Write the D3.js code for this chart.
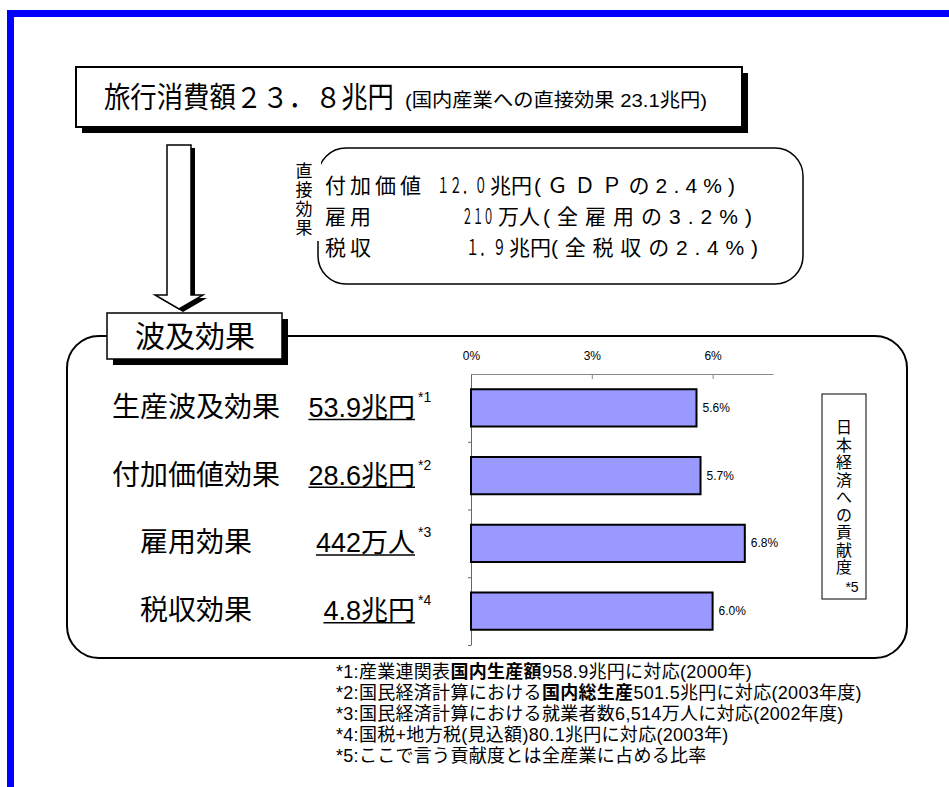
<!DOCTYPE html>
<html><head><meta charset="utf-8">
<script src="https://cdn.jsdelivr.net/npm/d3@7"></script>
<style>body{margin:0;background:#fff}svg{display:block}</style>
</head><body>
<script>
// ---------- data ----------
const categories = ["生産波及効果","付加価値効果","雇用効果","税収効果"];
const amounts = ["53.9兆円","28.6兆円","442万人","4.8兆円"];
const noteMarks = ["*1","*2","*3","*4"];
const shares = [5.6,5.7,6.8,6.0];
const shareTicks = [0,3,6];
const titleMain = "旅行消費額２３．８兆円";
const titleSub = "(国内産業への直接効果 23.1兆円)";
const directHeader = "直接効果";
const directLabels = ["付加価値","雇用","税収"];
const directNumbers = ["１２．０","２１０","１．９"];
const directUnits = ["兆円","万人","兆円"];
const directShares = ["(ＧＤＰの2.4%)","(全雇用の3.2%)","(全税収の2.4%)"];
const spreadTitle = "波及効果";
const contribLabel = "日本経済への貢献度";
const contribNote = "*5";
const footnoteText = [
  "*1:産業連関表|国内生産額|958.9兆円に対応(2000年)",
  "*2:国民経済計算における|国内総生産|501.5兆円に対応(2003年度)",
  "*3:国民経済計算における就業者数6,514万人に対応(2002年度)",
  "*4:国税+地方税(見込額)80.1兆円に対応(2003年)",
  "*5:ここで言う貢献度とは全産業に占める比率"
];

// ---------- layout ----------
const W = 949, H = 787;
const FONT = "'Liberation Sans','Noto Sans CJK JP',sans-serif";
const svg = d3.select("body").append("svg").attr("width", W).attr("height", H)
  .style("font-family", FONT);

// blue frame
svg.append("rect").attr("x", 10.5).attr("y", 13.5).attr("width", 1200).attr("height", 1200)
  .attr("fill", "none").attr("stroke", "#0000ff").attr("stroke-width", 7);

function shadowBox(x, y, w, h, off, sw) {
  svg.append("rect").attr("x", x + off).attr("y", y + off).attr("width", w).attr("height", h).attr("fill", "#000");
  svg.append("rect").attr("x", x).attr("y", y).attr("width", w).attr("height", h)
    .attr("fill", "#fff").attr("stroke", "#000").attr("stroke-width", sw);
}

// title box
shadowBox(76, 67, 666, 60, 6, 2);
svg.append("text").attr("x", 104).attr("y", 108).attr("font-size", 29)
  .attr("textLength", 290).attr("lengthAdjust", "spacingAndGlyphs").text(titleMain);
svg.append("text").attr("x", 405).attr("y", 107).attr("font-size", 19)
  .attr("textLength", 302).attr("lengthAdjust", "spacingAndGlyphs").text(titleSub);

// arrow
const arrowPts = [[167,145],[191,145],[191,295],[203,295],[179,309],[155,295],[167,295]];
svg.append("polygon").attr("points", arrowPts.map(p => [p[0]+4, p[1]+3].join(",")).join(" ")).attr("fill", "#000");
svg.append("polygon").attr("points", arrowPts.map(p => p.join(",")).join(" "))
  .attr("fill", "#fff").attr("stroke", "#000").attr("stroke-width", 1.5);

// direct effect box
svg.append("rect").attr("x", 318).attr("y", 148).attr("width", 485).attr("height", 136)
  .attr("rx", 28).attr("ry", 28).attr("fill", "#fff").attr("stroke", "#000").attr("stroke-width", 1.5);
svg.append("rect").attr("x", 290).attr("y", 157).attr("width", 31).attr("height", 84).attr("fill", "#fff");
directHeader.split("").forEach((c, i) => {
  svg.append("text").attr("x", 304).attr("y", 170 + i * 19 + 6.5).attr("text-anchor", "middle")
    .attr("font-size", 17).text(c);
});
const rowY = [193, 224, 255];
const numX = [437, 462, 466], numLen = [50, 32, 40];
const unitX = [490, 498, 509];
const shareX = [534, 543, 551], shareLen = [201, 209, 207];
const FS = 21;
directLabels.forEach((t, i) => {
  svg.append("text").attr("x", 325).attr("y", rowY[i]).attr("font-size", FS)
    .attr("letter-spacing", 4).text(t);
  const n = directNumbers[i].length;
  svg.append("text").attr("transform", `translate(${numX[i]},${rowY[i]}) scale(${numLen[i] / (n * FS)},1)`)
    .attr("font-size", FS).text(directNumbers[i]);
  svg.append("text").attr("x", unitX[i]).attr("y", rowY[i]).attr("font-size", FS)
    .text(directUnits[i]);
  svg.append("text").attr("x", shareX[i]).attr("y", rowY[i]).attr("font-size", FS)
    .attr("textLength", shareLen[i]).attr("lengthAdjust", "spacing").text(directShares[i]);
});

// spread container
svg.append("rect").attr("x", 67).attr("y", 336).attr("width", 840).attr("height", 322)
  .attr("rx", 32).attr("ry", 32).attr("fill", "#fff").attr("stroke", "#000").attr("stroke-width", 2);
shadowBox(107, 313, 175, 46, 6, 1.5);
svg.append("text").attr("x", 195).attr("y", 347).attr("text-anchor", "middle")
  .attr("font-size", 30).text(spreadTitle);

// bar chart
const x = d3.scaleLinear().domain([0, 7.5]).range([471, 773]);
const y = d3.scaleBand().domain(categories).range([374, 645]).paddingInner(0.45).paddingOuter(0.225);

const xAxis = svg.append("g").attr("transform", "translate(0,374)")
  .call(d3.axisTop(x).tickValues(shareTicks).tickFormat(d => d + "%")
    .tickSizeInner(-5).tickSizeOuter(0).tickPadding(14));
xAxis.select(".domain").attr("stroke", "#888");
xAxis.selectAll(".tick line").attr("stroke", "#888");
xAxis.selectAll(".tick text").attr("font-size", 12).attr("font-family", FONT).attr("fill", "#000");

const bounds = d3.scaleLinear().domain([0, categories.length]).range([374, 645]);
const yAxis = svg.append("g").attr("transform", "translate(471,0)")
  .call(d3.axisLeft(bounds).tickValues(d3.range(1, categories.length + 1)).tickSize(3).tickSizeOuter(0).tickFormat(""));
yAxis.select(".domain").attr("stroke", "#666");
yAxis.selectAll(".tick line").attr("stroke", "#666");

svg.append("g").selectAll("rect").data(shares).join("rect")
  .attr("x", x(0)).attr("y", (d, i) => y(categories[i]))
  .attr("width", d => x(d) - x(0)).attr("height", y.bandwidth())
  .attr("fill", "#9999ff").attr("stroke", "#000").attr("stroke-width", 2);
svg.append("g").selectAll("text").data(shares).join("text")
  .attr("x", d => x(d) + 6).attr("y", (d, i) => y(categories[i]) + y.bandwidth() / 2 + 4)
  .attr("font-size", 12).text(d => d.toFixed(1) + "%");

// left labels
categories.forEach((c, i) => {
  const cy = y(c) + y.bandwidth() / 2;
  const base = cy + 9;
  svg.append("text").attr("x", 196).attr("y", base).attr("text-anchor", "middle")
    .attr("font-size", 28).text(c);
  const t = svg.append("text").attr("x", 415).attr("y", base).attr("text-anchor", "end")
    .attr("font-size", 27).text(amounts[i]);
  const bb = t.node().getBBox();
  svg.append("line").attr("x1", bb.x).attr("x2", bb.x + bb.width).attr("y1", base + 2.5).attr("y2", base + 2.5)
    .attr("stroke", "#000").attr("stroke-width", 1.5);
  svg.append("text").attr("x", 418).attr("y", base - 15).attr("font-size", 14).text(noteMarks[i]);
});

// contribution label box
svg.append("rect").attr("x", 822).attr("y", 394).attr("width", 44).attr("height", 205)
  .attr("fill", "#fff").attr("stroke", "#000").attr("stroke-width", 1);
contribLabel.split("").forEach((c, i) => {
  svg.append("text").attr("x", 844).attr("y", 427 + i * 17.5 + 6).attr("text-anchor", "middle")
    .attr("font-size", 16).text(c);
});
svg.append("text").attr("x", 852).attr("y", 592).attr("text-anchor", "middle").attr("font-size", 14).text(contribNote);

// footnotes
const footY = [678, 699, 720, 741, 762];
footnoteText.forEach((line, i) => {
  const t = svg.append("text").attr("x", 336).attr("y", footY[i]).attr("font-size", 18)
    .attr("letter-spacing", 0.3);
  line.split("|").forEach((seg, j) => {
    t.append("tspan").attr("font-weight", j === 1 ? "bold" : "normal").text(seg);
  });
});
</script>
</body></html>
